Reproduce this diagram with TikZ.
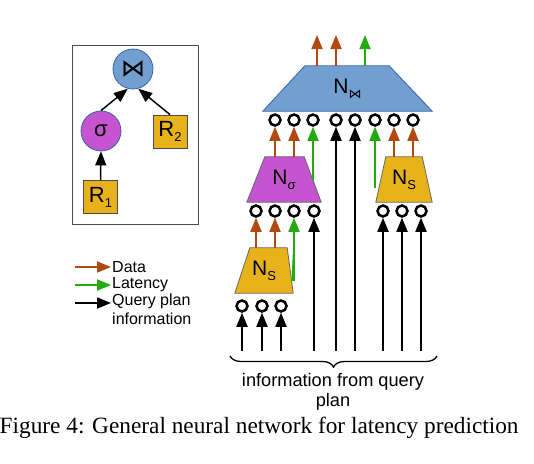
\documentclass[tikz,border=0pt]{standalone}
\usepackage{fontspec}
\setmainfont{Liberation Sans}
\newfontfamily\capfont{Liberation Serif}
\newfontfamily\dvs{DejaVu Sans}
\usetikzlibrary{arrows.meta,calc,decorations.pathreplacing}
\definecolor{dbrown}{HTML}{B04A10}
\definecolor{dgreen}{HTML}{22AA11}
\definecolor{jblue}{HTML}{729FCF}
\definecolor{jblueline}{HTML}{3465A4}
\definecolor{spurple}{HTML}{C653CF}
\definecolor{sgold}{HTML}{E8B31A}
\tikzset{
  arr/.style={line width=1.8pt,-{Triangle[width=11pt,length=14pt]}},
  dat/.style={arr,draw=dbrown,fill=dbrown},
  lat/.style={arr,draw=dgreen,fill=dgreen},
  qry/.style={arr,draw=black,fill=black},
  treearr/.style={line width=1.5pt,-{Triangle[width=11pt,length=14pt]}},
  unit/.style={circle,draw=black,line width=2.5pt,minimum size=11pt,inner sep=0pt,fill=white},
  trapbox/.style={rectangle,draw=none,inner sep=0pt,minimum height=45pt,font=\fontsize{21}{23}\selectfont},
  trapline/.style={line width=0.8pt},
  relbox/.style={rectangle,draw=black!70,line width=0.8pt,fill=sgold,minimum width=34pt,minimum height=33pt,inner sep=0pt,font=\fontsize{22}{24}\selectfont},
  opcirc/.style={circle,draw=jblueline,line width=0.8pt,minimum size=40pt,inner sep=0pt},
  legtext/.style={anchor=west,inner sep=1pt,align=left,font=\fontsize{16}{19}\selectfont},
}
\newcommand{\subl}[1]{\raisebox{-5pt}{\fontsize{13}{14}\selectfont #1}}
\begin{document}
\begin{tikzpicture}[x=1pt,y=-1pt]
\useasboundingbox (0,0) rectangle (534,463);

% ---------------- left: query plan tree ----------------
\node[rectangle,draw=black!70,line width=1pt,minimum width=126pt,minimum height=179pt,inner sep=0pt] (treebox) at (135,134.5) {};
\node[opcirc,fill=jblue,font=\fontsize{24}{26}\selectfont] (join) at (133,69) {\dvs ⋈};
\node[opcirc,fill=spurple,font=\fontsize{22}{24}\selectfont] (sig) at (101,131) {σ};
\node[relbox] (R2) at (170,131.5) {R\subl{2}};
\node[relbox] (R1) at (100.5,197) {R\subl{1}};
\draw[treearr] (sig.north) -- (join.255);
\draw[treearr] (R2.north) -- (join.285);
\draw[treearr] (R1.north) -- (sig.south);

% ---------------- legend ----------------
\node[legtext] (legD) at (111,267) {Data};
\node[legtext] (legL) at (111,285) {Latency};
\node[legtext,anchor=north west] (legQ) at (111,293) {Query plan\\information};
\coordinate (legDs) at (75,267);
\coordinate (legLs) at (75,285);
\coordinate (legQs) at (75,303);
\draw[dat] (legDs) -- (legD.west);
\draw[lat] (legLs) -- (legLs -| legL.west);
\draw[qry] (legQs) -- (legQs -| legQ.west);

% ---------------- trapezoid networks ----------------
% N join
\node[trapbox,minimum width=169pt] (Nj) at (347.5,88.5) {};
\coordinate (Nj-tl) at ($(Nj.north west)+(42,0)$);
\coordinate (Nj-tr) at ($(Nj.north east)+(-43,0)$);
\filldraw[trapline,draw=jblueline,fill=jblue] (Nj.south west) -- (Nj.south east) -- (Nj-tr) -- (Nj-tl) -- cycle;
\node[trapbox,minimum width=169pt] at (Nj) {N\subl{\dvs ⋈}};

% N sigma
\node[trapbox,minimum width=74pt] (Ns) at (284,179.5) {};
\coordinate (Ns-tl) at ($(Ns.north west)+(18,0)$);
\coordinate (Ns-tr) at ($(Ns.north east)+(-17,0)$);
\coordinate (Ns-br) at (Ns.south east);
\filldraw[trapline,draw=black!60,fill=spurple] (Ns.south west) -- (Ns.south east) -- (Ns-tr) -- (Ns-tl) -- cycle;
\node[trapbox,minimum width=74pt] at (Ns) {N\subl{σ}};

% N S right
\node[trapbox,minimum width=56pt] (Nr) at (404,179.5) {};
\coordinate (Nr-tl) at ($(Nr.north west)+(10,0)$);
\coordinate (Nr-tr) at ($(Nr.north east)+(-10,0)$);
\filldraw[trapline,draw=black!60,fill=sgold] (Nr.south west) -- (Nr.south east) -- (Nr-tr) -- (Nr-tl) -- cycle;
\node[trapbox,minimum width=56pt] at (Nr) {N\subl{S}};

% N S lower
\node[trapbox,minimum width=58pt] (Nl) at (264,270.5) {};
\coordinate (Nl-tl) at ($(Nl.north west)+(15,0)$);
\coordinate (Nl-tr) at ($(Nl.north east)+(-6,0)$);
\coordinate (Nl-br) at (Nl.south east);
\filldraw[trapline,draw=black!60,fill=sgold] (Nl.south west) -- (Nl.south east) -- (Nl-tr) -- (Nl-tl) -- cycle;
\node[trapbox,minimum width=58pt] at (Nl) {N\subl{S}};

% ---------------- units ----------------
\foreach \x [count=\i] in {275,294,313,336,355,375,394,413}
  \node[unit] (a\i) at (\x,120) {};
\foreach \x [count=\i] in {256,275,294,314,383,402,421}
  \node[unit] (b\i) at (\x,211) {};
\foreach \x [count=\i] in {242,262,281}
  \node[unit] (c\i) at (\x,306) {};

\coordinate (base) at (0,351);

% outputs of N join
\coordinate (o1) at (317,35);
\coordinate (o2) at (336,35);
\coordinate (o3) at (365,35);
\draw[dat] (o1 |- Nj.north) -- (o1);
\draw[dat] (o2 |- Nj.north) -- (o2);
\draw[lat] (o3 |- Nj.north) -- (o3);

% into row a
\draw[dat] (a1 |- Ns.north) -- (a1);
\draw[dat] (a2 |- Ns.north) -- (a2);
\coordinate (va3) at (a3 |- Ns.south);
\draw[lat] (intersection of Ns-tr--Ns-br and a3--va3) -- (a3);
\draw[qry] (a4 |- base) -- (a4);
\draw[qry] (a5 |- base) -- (a5);
\coordinate (gr) at (375,188);
\draw[lat] (gr) -- (a6);
\draw[dat] (a7 |- Nr.north) -- (a7);
\draw[dat] (a8 |- Nr.north) -- (a8);

% into row b
\draw[dat] (b1 |- Nl.north) -- (b1);
\draw[dat] (b2 |- Nl.north) -- (b2);
\coordinate (gl) at ($(Nl-tr)!0.71!(Nl-br)$);
\draw[lat] (gl) -| (b3);
\draw[qry] (b4 |- base) -- (b4);
\draw[qry] (b5 |- base) -- (b5);
\draw[qry] (b6 |- base) -- (b6);
\draw[qry] (b7 |- base) -- (b7);

% into row c
\draw[qry] (c1 |- base) -- (c1);
\draw[qry] (c2 |- base) -- (c2);
\draw[qry] (c3 |- base) -- (c3);

% ---------------- brace and label ----------------
\coordinate (brL) at (230,356);
\coordinate (brR) at (437,356);
\draw[line width=1.3pt,decorate,decoration={brace,mirror,amplitude=11pt}] (brL) -- (brR);
\node[inner sep=0pt,align=center,font=\fontsize{18.2}{20.5}\selectfont] (info) at (333,392) {information from query\\plan};

% ---------------- caption ----------------
\node[anchor=base west,inner sep=0pt,font=\capfont\fontsize{23.3}{26}\selectfont] (cap) at (-0.5,433) {Figure 4: General neural network for latency prediction};
\end{tikzpicture}
\end{document}
